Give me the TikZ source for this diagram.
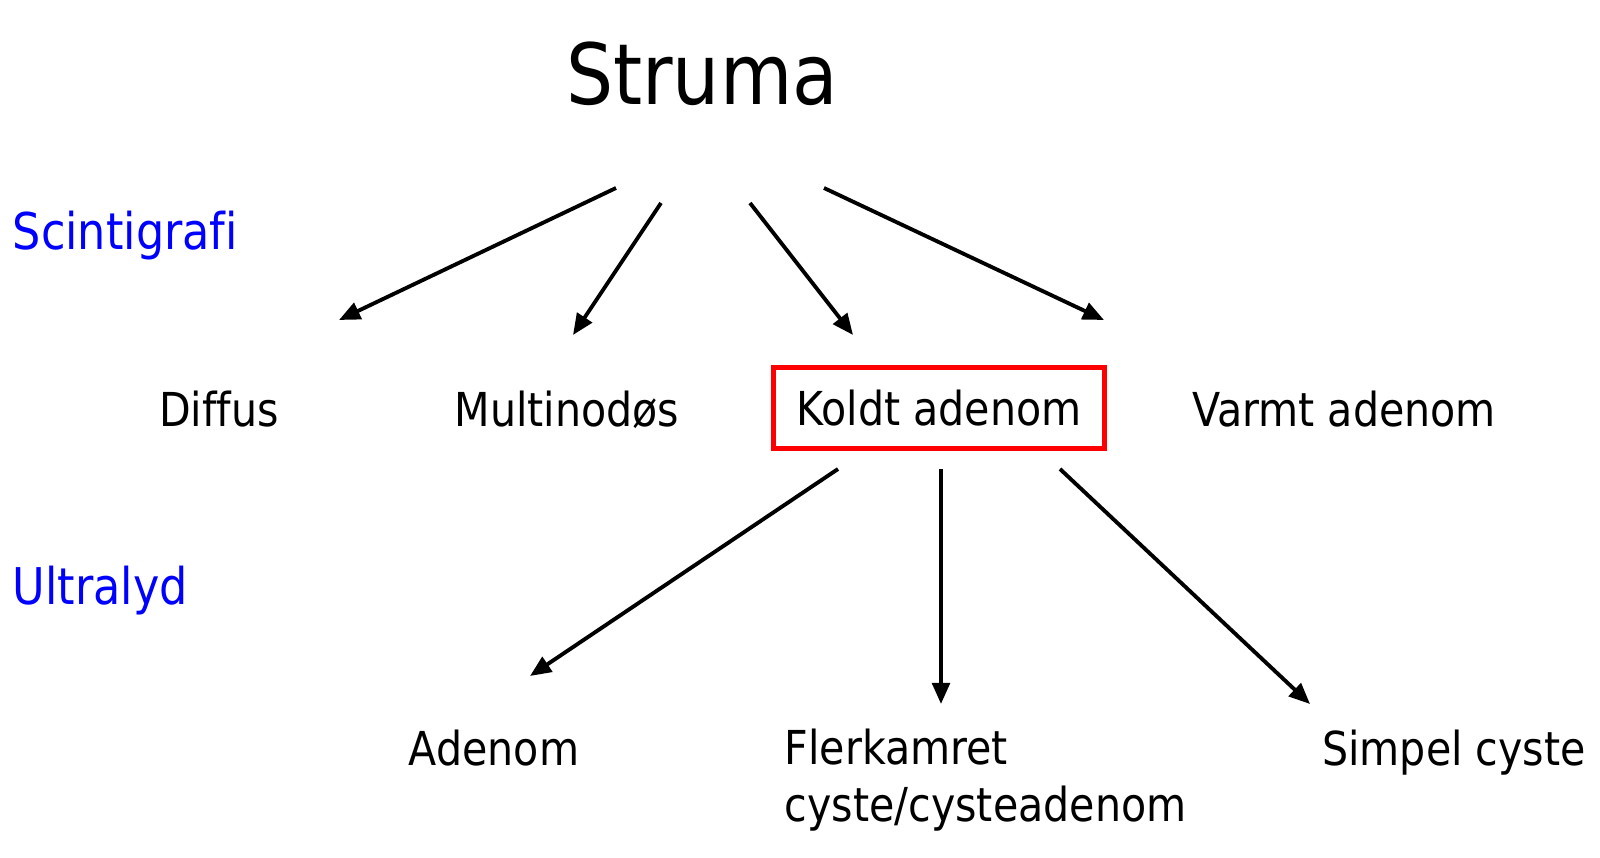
\documentclass[tikz,border=0pt]{standalone}
\usepackage{fontspec}
\setmainfont[FakeStretch=0.88, Ligatures=NoCommon]{DejaVu Sans}
\usetikzlibrary{arrows.meta}
\definecolor{StrumaBlue}{HTML}{0000FF}
\definecolor{StrumaRed}{HTML}{FF0000}

\begin{document}
\begin{tikzpicture}[x=0.01cm, y=-0.01cm,
    txt/.style={font=\fontsize{13.3}{16.2}\selectfont, inner sep=0pt, anchor=base},
    side/.style={font=\fontsize{14.4}{17}\selectfont, text=StrumaBlue, inner sep=0pt, anchor=base west},
    arr/.style={-{Triangle[length=6pt, width=5pt]}, line width=1.1pt}]
                \useasboundingbox (0,0) rectangle (1600,858);
                \node[font=\fontsize{24}{28}\selectfont, inner sep=0pt, anchor=base] (struma) at (702,105) {Struma};
                \node[side] (scinti) at (12,250) {Scintigrafi};
                \node[side] (ultra) at (12,604) {Ultralyd};

                \node[txt] (diffus) at (219,426) {Diffus};
                \node[txt] (multi) at (567,426) {Multinodøs};
                \node[draw=StrumaRed, line width=1.3pt, minimum width=3.31cm, minimum height=0.81cm, font=\fontsize{13.3}{16.2}\selectfont] (koldt) at (939,408) {Koldt adenom};
                \node[txt] (varmt) at (1344,426) {Varmt adenom};

                \node[txt] (adenom) at (494,765) {Adenom};
                \node[txt, anchor=base west, align=left] (fler) at (784,821) {Flerkamret\\cyste/cysteadenom};
                \node[txt] (simpel) at (1454,765) {Simpel cyste};

                % arrow ends
                \coordinate (a1) at (616,188); \coordinate (b1) at (339,320);
                \coordinate (a2) at (661,203); \coordinate (b2) at (573,335);
                \coordinate (a3) at (750,203); \coordinate (b3) at (853,335);
                \coordinate (a4) at (824,188); \coordinate (b4) at (1104,320);
                \coordinate (a5) at (838,469); \coordinate (b5) at (530,676);
                \coordinate (a6) at (941,469); \coordinate (b6) at (941,704);
                \coordinate (a7) at (1060,469); \coordinate (b7) at (1310,704);

                \foreach \i in {1,...,7}
                    \draw[arr] (a\i) -- (b\i);
            \end{tikzpicture}
\end{document}
